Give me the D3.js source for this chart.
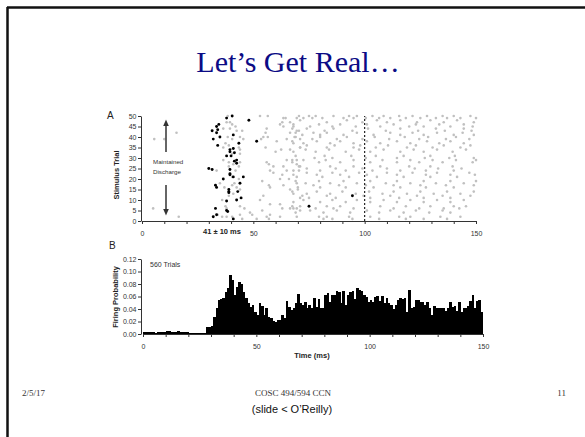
<!DOCTYPE html>
<html><head><meta charset="utf-8">
<script src="https://cdn.jsdelivr.net/npm/d3@7"></script>
<style>
html,body{margin:0;padding:0;background:#fff;}
svg{display:block;}
</style></head>
<body>
<script>
// ---------- DATA ----------
const title = "Let\u2019s Get Real\u2026";
const footerDate = "2/5/17";
const footerCourse = "COSC 494/594 CCN";
const footerPage = "11";
const footerCredit = "(slide < O\u2019Reilly)";

// Raster: first spikes (black) [ms, trial]
const blackSpikes = [[40.5,50],[38,49],[48,48],[34.5,46],[33.5,45],[31.5,43],[34,43.5],[33.5,42],[41,41],[35,40],[32,39],[43.5,37],[51.5,38],[34,36],[41,34.5],[39.5,34],[39.5,33],[41.5,32.5],[38,31],[40,31],[42.5,29],[41.5,28.5],[42.5,27.5],[30,25],[31.5,24.5],[39.5,24.5],[39.5,22.5],[39.5,22],[41,21],[45.5,21],[36.5,20],[44,18],[33,17],[33.5,16],[39,15],[39,14],[43,14],[39,13.5],[44.5,11],[42.5,10],[38,9.5],[33,6],[38,5],[38.5,4.5],[33.5,3],[32,2],[41,1],[75,7],[94.5,12]];

// Raster: other spikes (grey) [ms, trial]
const graySpikes = [
[5.5,39],[10,39],[15.5,42],[5,6],[16.5,2],
[38.5,50],[39.5,47],[40.5,46],[38,47],[42,45],[36.5,44],[39.5,44],[45,43],[42.5,43],[38.5,40],[44,40],[40.5,39],[45.5,39],[37.5,37],[39,36],[43.5,35],[36.5,35],[44,34],[40.5,32],[44,32],[36.5,29],[39,28],[44,28],[41,27],[43.5,26],[39,26],[33.5,24],[42,24],[40.5,21],[43.5,20],[35,18],[41.5,18],[40.5,17],[37,16],[42.5,16],[44,15],[41,13],[39,12],[36,10],[37.5,7],[44,7],[46,6],[38,6],[34,3],[40.5,2],[44,3],[36,2],[45,1],[38,2],
[53,50],[56.5,50],[63.5,49],[64.5,49],[69.5,49],[63,47],[62,46],[63.5,45],[66.5,47],[68,45],[56,44],[55.5,42],[54.5,40],[53.5,39],[56.5,40],[69.5,43],[66.5,42],[69,40],[65,39],[71,39],[60.5,38],[68,37],[55.5,35],[60,33],[62.5,34],[66.5,34],[71,35],[69.5,29],[67.5,29],[56,28],[57,27],[59,26],[65,29],[69.5,27],[70.5,26],[63.5,26],[65,24],[57.5,24],[59,23],[63,22],[68,22],[70.5,24],[62,20],[66,20],[54,19],[57,17],[63.5,17],[69.5,18],[57.5,16],[66.5,15],[70,15],[68,13],[54.5,12],[53,10],[71,11],[57.5,8],[62,8],[63,6],[66.5,6],[68,6],[54,5],[57.5,3],[71,5],[49.5,3],[48.5,4],[56,2],[62,2],[51.5,1],[69.5,2],[57,1],
[70.5,50],[75,50],[78,50],[86,50],[93,50],[96.5,50],[103.5,50],[108.5,50],[115.5,50],[121.5,50],[128,50],[135,50],[140,50],[147.5,50],
[72.5,49],[76.5,49],[81,49],[90.5,49],[95,49],[100.5,49],[106.5,49],[111.5,49],[118.5,49],[125,49],[132,49],[137,49],[143,49],[150,49],
[71,48],[83,47],[92,48],[99,47],[105.5,48],[110,47],[116,48],[123.5,47],[129.5,48],[135.5,47],[141.5,48],[149,47],
[68,46],[75.5,45],[79.5,46],[85.5,45],[89,46],[96,45],[101,46],[107,45],[113,46],[120,45],[123,46],[126.5,45],[133.5,46],[138.5,45],[144.5,46],[148.5,45],
[67.5,44],[70.5,43],[74,44],[82,43],[86,44],[94.5,43],[101.5,44],[109.5,43],[116,44],[124,43],[132,44],[136,43],[144.5,44],[148,43],
[69,42],[72,41],[77,42],[80,41],[83,42],[90.5,41],[96.5,42],[104,41],[111.5,42],[116,41],[121.5,42],[126.5,41],[132.5,42],[140,41],[144,42],[149,41],
[68.5,40],[76.5,39],[80,40],[87.5,39],[92,40],[99,39],[104.5,40],[111,39],[118,40],[124.5,39],[128.5,40],[136.5,39],[141,40],[147,39],
[67.5,38],[72.5,37],[78.5,38],[84.5,37],[89,38],[95,37],[101,38],[107,37],[114.5,38],[120.5,37],[128,38],[133.5,37],[138.5,38],[144.5,37],
[71,35],[74,36],[83,35],[86.5,36],[95,35],[98,36],[105,35],[110.5,36],[119,35],[123,36],[130.5,35],[135.5,36],[143,35],[147.5,36],
[68,33],[73.5,34],[78,33],[84,34],[91.5,33],[97.5,34],[102.5,33],[108.5,34],[116,33],[122,34],[126.5,33],[132.5,34],[139.5,33],[145.5,34],
[69,31],[77.5,30],[82,31],[85.5,30],[94,31],[100.5,30],[105,31],[114.5,30],[117.5,31],[127,30],[129.5,31],[138,30],[140.5,31],[149,30],
[67.5,28],[72.5,29],[79.5,28],[82.5,29],[89,28],[95,29],[102.5,28],[108,29],[114.5,28],[120.5,29],[124.5,28],[130.5,29],[135,28],[141,29],[148.5,28],[150,29],
[71,26],[74,25],[84.5,26],[87,25],[95,26],[99,25],[107,26],[110,25],[120,26],[122.5,25],[129.5,26],[133,25],[139.5,26],[143.5,25],
[68,24],[74,23],[80,24],[85.5,23],[91.5,24],[97.5,23],[103.5,24],[110,23],[116,24],[121.5,23],[127.5,24],[132.5,23],[140,24],[147,23],
[69.5,21],[78.5,22],[81,21],[89,22],[93,21],[101,22],[105.5,21],[114.5,22],[117.5,21],[127.5,22],[129.5,21],[138.5,22],[141.5,21],[149.5,22],
[69,19],[73.5,18],[79.5,19],[84.5,18],[90.5,19],[96.5,18],[102.5,19],[109.5,18],[114.5,19],[120.5,18],[126.5,19],[132,18],[138.5,19],[144.5,18],[150,19],
[70,16],[77,17],[80,16],[88.5,17],[91.5,16],[100.5,17],[104,16],[113,17],[116,16],[125,17],[127.5,16],[136.5,17],[140,16],[149,17],
[67.5,14],[74,13],[78.5,14],[84.5,13],[90,14],[96,13],[102,14],[108,13],[113,14],[119,13],[125,14],[131,13],[137,14],[143,13],[149,14],
[72,12],[75,11],[83,12],[87,11],[99.5,12],[102.5,11],[111.5,12],[115.5,11],[123.5,12],[126.5,11],[135,12],[138.5,11],[147.5,12],
[68,9],[72.5,10],[80,9],[85.5,10],[91.5,9],[96.5,10],[102.5,9],[108.5,10],[114.5,9],[120.5,10],[126.5,9],[132.5,10],[138.5,9],[144.5,10],
[67.5,7],[69.5,6],[71,7],[78,6],[83,7],[86,6],[89,7],[95,6],[107,7],[113,6],[118.5,7],[124.5,6],[129.5,7],[135.5,6],[140,7],[142.5,6],[145.5,7],
[69,4],[75.5,5],[81.5,4],[87.5,5],[93.5,4],[101,5],[106.5,4],[111.5,5],[117.5,4],[123,5],[129,4],[135,5],[138.5,4],
[79.5,2],[81.5,1],[83,2],[85.5,1],[93,2],[94.5,1],[102.5,2],[106.5,1],[115.5,2],[118.5,1],[120.5,2],[126.5,1],[134,2],[137,1],[143,2]
];

const rasterYTicks = [0,5,10,15,20,25,30,35,40,45,50];
const rasterXLabels = [0,50,100,150];
const minorXTicks = [0,10,20,30,40,50,60,70,80,90,100,110,120,130,140,150];
const markerTime = 100;
const latencyLabel = "41 \u00b1 10 ms";

// PSTH, 1 ms bins starting at 0 ms (firing probability)
const binWidthMs = 1;
const psth = [
0.003,0.004,0.004,0.003,0.003,0.002,0.003,0.004,0.004,0.003,
0.005,0.005,0.004,0.003,0.004,0.005,0.004,0.003,0.004,0.003,
0.002,0.002,0.002,0.002,0.002,0.002,0.002,0.002,0.011,0.011,
0.013,0.028,0.042,0.054,0.056,0.058,0.068,0.073,0.095,0.086,
0.063,0.076,0.083,0.080,0.068,0.058,0.049,0.044,0.046,0.036,
0.030,0.049,0.045,0.031,0.041,0.028,0.025,0.021,0.020,0.022,
0.022,0.030,0.025,0.053,0.044,0.038,0.042,0.049,0.064,0.049,
0.047,0.051,0.042,0.046,0.041,0.057,0.044,0.056,0.042,0.041,
0.062,0.065,0.052,0.063,0.062,0.069,0.068,0.049,0.069,0.047,
0.062,0.068,0.069,0.056,0.073,0.070,0.069,0.063,0.060,0.052,
0.055,0.052,0.060,0.061,0.053,0.061,0.049,0.057,0.049,0.046,
0.040,0.047,0.054,0.057,0.056,0.058,0.036,0.070,0.041,0.044,
0.054,0.054,0.052,0.051,0.046,0.051,0.042,0.030,0.045,0.042,
0.041,0.041,0.041,0.037,0.041,0.052,0.044,0.045,0.037,0.051,
0.036,0.041,0.042,0.045,0.053,0.062,0.041,0.053,0.054,0.036
];
const psthYTicks = [0,0.02,0.04,0.06,0.08,0.10,0.12];
const psthLabel = "560 Trials";

// ---------- DRAW ----------
const W = 585, H = 437;
const svg = d3.select("body").append("svg").attr("width", W).attr("height", H);
svg.append("rect").attr("width", W).attr("height", H).attr("fill", "#fff");

// slide border (top & left)
svg.append("line").attr("x1", 7).attr("x2", W).attr("y1", 7.5).attr("y2", 7.5).attr("stroke", "#111").attr("stroke-width", 2.5);
svg.append("line").attr("x1", 7.5).attr("x2", 7.5).attr("y1", 7).attr("y2", H).attr("stroke", "#111").attr("stroke-width", 2.5);

svg.append("text").attr("x", 298).attr("y", 72).attr("text-anchor", "middle")
  .attr("font-family", "Liberation Serif, Times New Roman, serif").attr("font-size", 30)
  .attr("fill", "#0b0b85").text(title);

const sans = "Liberation Sans, Arial, sans-serif";
const axisColor = "#333";
const tickFont = 7;
const labelFont = 7.5;

// ---- Raster panel A ----
const rx = d3.scaleLinear().domain([0,150]).range([142,476]);
const ry = d3.scaleLinear().domain([0,50]).range([221,116]);

const gA = svg.append("g");
const yAxA = gA.append("g").attr("transform", "translate(141,0)")
  .call(d3.axisLeft(ry).tickValues(rasterYTicks).tickSize(3).tickSizeOuter(0));
const xAxA = gA.append("g").attr("transform", "translate(0,221)")
  .call(d3.axisBottom(rx).tickValues(minorXTicks).tickSize(3).tickSizeOuter(0)
    .tickFormat(d => rasterXLabels.includes(d) ? d : ""));
[yAxA, xAxA].forEach(a => {
  a.selectAll("path,line").attr("stroke", axisColor).attr("stroke-width", 1);
  a.selectAll("text").attr("font-family", sans).attr("font-size", tickFont).attr("fill", "#333");
});
xAxA.selectAll("text").attr("dy", "1.25em");
yAxA.selectAll("text").attr("x", -4.5);

gA.selectAll("circle.g").data(graySpikes).join("circle").attr("class", "g")
  .attr("cx", d => rx(d[0])).attr("cy", d => ry(d[1])).attr("r", 1.3).attr("fill", "#c0c0c0");
gA.append("line").attr("x1", rx(markerTime)).attr("x2", rx(markerTime))
  .attr("y1", ry(0)).attr("y2", ry(50)).attr("stroke", "#111").attr("stroke-width", 1.1).attr("stroke-dasharray", "2,2");
gA.selectAll("circle.b").data(blackSpikes).join("circle").attr("class", "b")
  .attr("cx", d => rx(d[0])).attr("cy", d => ry(d[1])).attr("r", 1.45).attr("fill", "#000");

gA.append("text").attr("x", 107).attr("y", 119).attr("font-family", sans).attr("font-size", 10).attr("fill", "#222").text("A");
gA.append("text").attr("transform", "translate(119,175) rotate(-90)").attr("text-anchor", "middle")
  .attr("font-family", sans).attr("font-size", labelFont).attr("font-weight", "bold").attr("fill", "#222").text("Stimulus Trial");
gA.append("text").attr("x", 222).attr("y", 233.5).attr("text-anchor", "middle")
  .attr("font-family", sans).attr("font-size", labelFont).attr("font-weight", "bold").attr("fill", "#222").text(latencyLabel);
gA.append("text").attr("x", 153).attr("y", 164).attr("font-family", sans).attr("font-size", 6.2).attr("fill", "#333").text("Maintained");
gA.append("text").attr("x", 153).attr("y", 174).attr("font-family", sans).attr("font-size", 6.2).attr("fill", "#333").text("Discharge");
// arrows
const ax = 166;
gA.append("line").attr("x1", ax).attr("x2", ax).attr("y1", 152).attr("y2", 125).attr("stroke", "#333").attr("stroke-width", 1.5);
gA.append("path").attr("d", `M${ax-2.8},126 L${ax},119.5 L${ax+2.8},126 Z`).attr("fill", "#333");
gA.append("line").attr("x1", ax).attr("x2", ax).attr("y1", 185).attr("y2", 210).attr("stroke", "#333").attr("stroke-width", 1.5);
gA.append("path").attr("d", `M${ax-2.8},209 L${ax},215.5 L${ax+2.8},209 Z`).attr("fill", "#333");

// ---- PSTH panel B ----
const hx = d3.scaleLinear().domain([0,150]).range([143,483]);
const hy = d3.scaleLinear().domain([0,0.12]).range([334,259]);
const gB = svg.append("g");
gB.selectAll("rect.bar").data(psth).join("rect").attr("class", "bar")
  .attr("x", (d,i) => hx(i*binWidthMs))
  .attr("width", (d,i) => hx((i+1)*binWidthMs) - hx(i*binWidthMs) + 0.4)
  .attr("y", d => hy(d)).attr("height", d => hy(0) - hy(d))
  .attr("fill", "#000").attr("shape-rendering", "crispEdges");
const yAxB = gB.append("g").attr("transform", "translate(141,0)")
  .call(d3.axisLeft(hy).tickValues(psthYTicks).tickSize(3).tickSizeOuter(0).tickFormat(d3.format(".2f")));
const xAxB = gB.append("g").attr("transform", "translate(0,334)")
  .call(d3.axisBottom(hx).tickValues(minorXTicks).tickSize(3).tickSizeOuter(0)
    .tickFormat(d => rasterXLabels.includes(d) ? d : ""));
[yAxB, xAxB].forEach(a => {
  a.selectAll("path,line").attr("stroke", axisColor).attr("stroke-width", 1);
  a.selectAll("text").attr("font-family", sans).attr("font-size", tickFont).attr("fill", "#333");
});
xAxB.selectAll("text").attr("dy", "1.35em");
yAxB.selectAll("text").attr("x", -4.5);

gB.append("text").attr("x", 109).attr("y", 249).attr("font-family", sans).attr("font-size", 10).attr("fill", "#222").text("B");
gB.append("text").attr("x", 150).attr("y", 267).attr("font-family", sans).attr("font-size", 7).attr("fill", "#333").text(psthLabel);
gB.append("text").attr("transform", "translate(118,297) rotate(-90)").attr("text-anchor", "middle")
  .attr("font-family", sans).attr("font-size", labelFont).attr("font-weight", "bold").attr("fill", "#222").text("Firing Probability");
gB.append("text").attr("x", 312).attr("y", 358).attr("text-anchor", "middle")
  .attr("font-family", sans).attr("font-size", labelFont).attr("font-weight", "bold").attr("fill", "#222").text("Time (ms)");

// ---- footer ----
const serif = "Liberation Serif, Times New Roman, serif";
svg.append("text").attr("x", 22).attr("y", 396).attr("font-family", serif).attr("font-size", 9).attr("fill", "#333").text(footerDate);
svg.append("text").attr("x", 293).attr("y", 396).attr("text-anchor", "middle").attr("font-family", serif).attr("font-size", 9).attr("fill", "#333").text(footerCourse);
svg.append("text").attr("x", 566).attr("y", 396).attr("text-anchor", "end").attr("font-family", serif).attr("font-size", 9).attr("fill", "#333").text(footerPage);
svg.append("text").attr("x", 292).attr("y", 413).attr("text-anchor", "middle").attr("font-family", sans).attr("font-size", 11).attr("fill", "#111").text(footerCredit);
</script>
</body></html>
